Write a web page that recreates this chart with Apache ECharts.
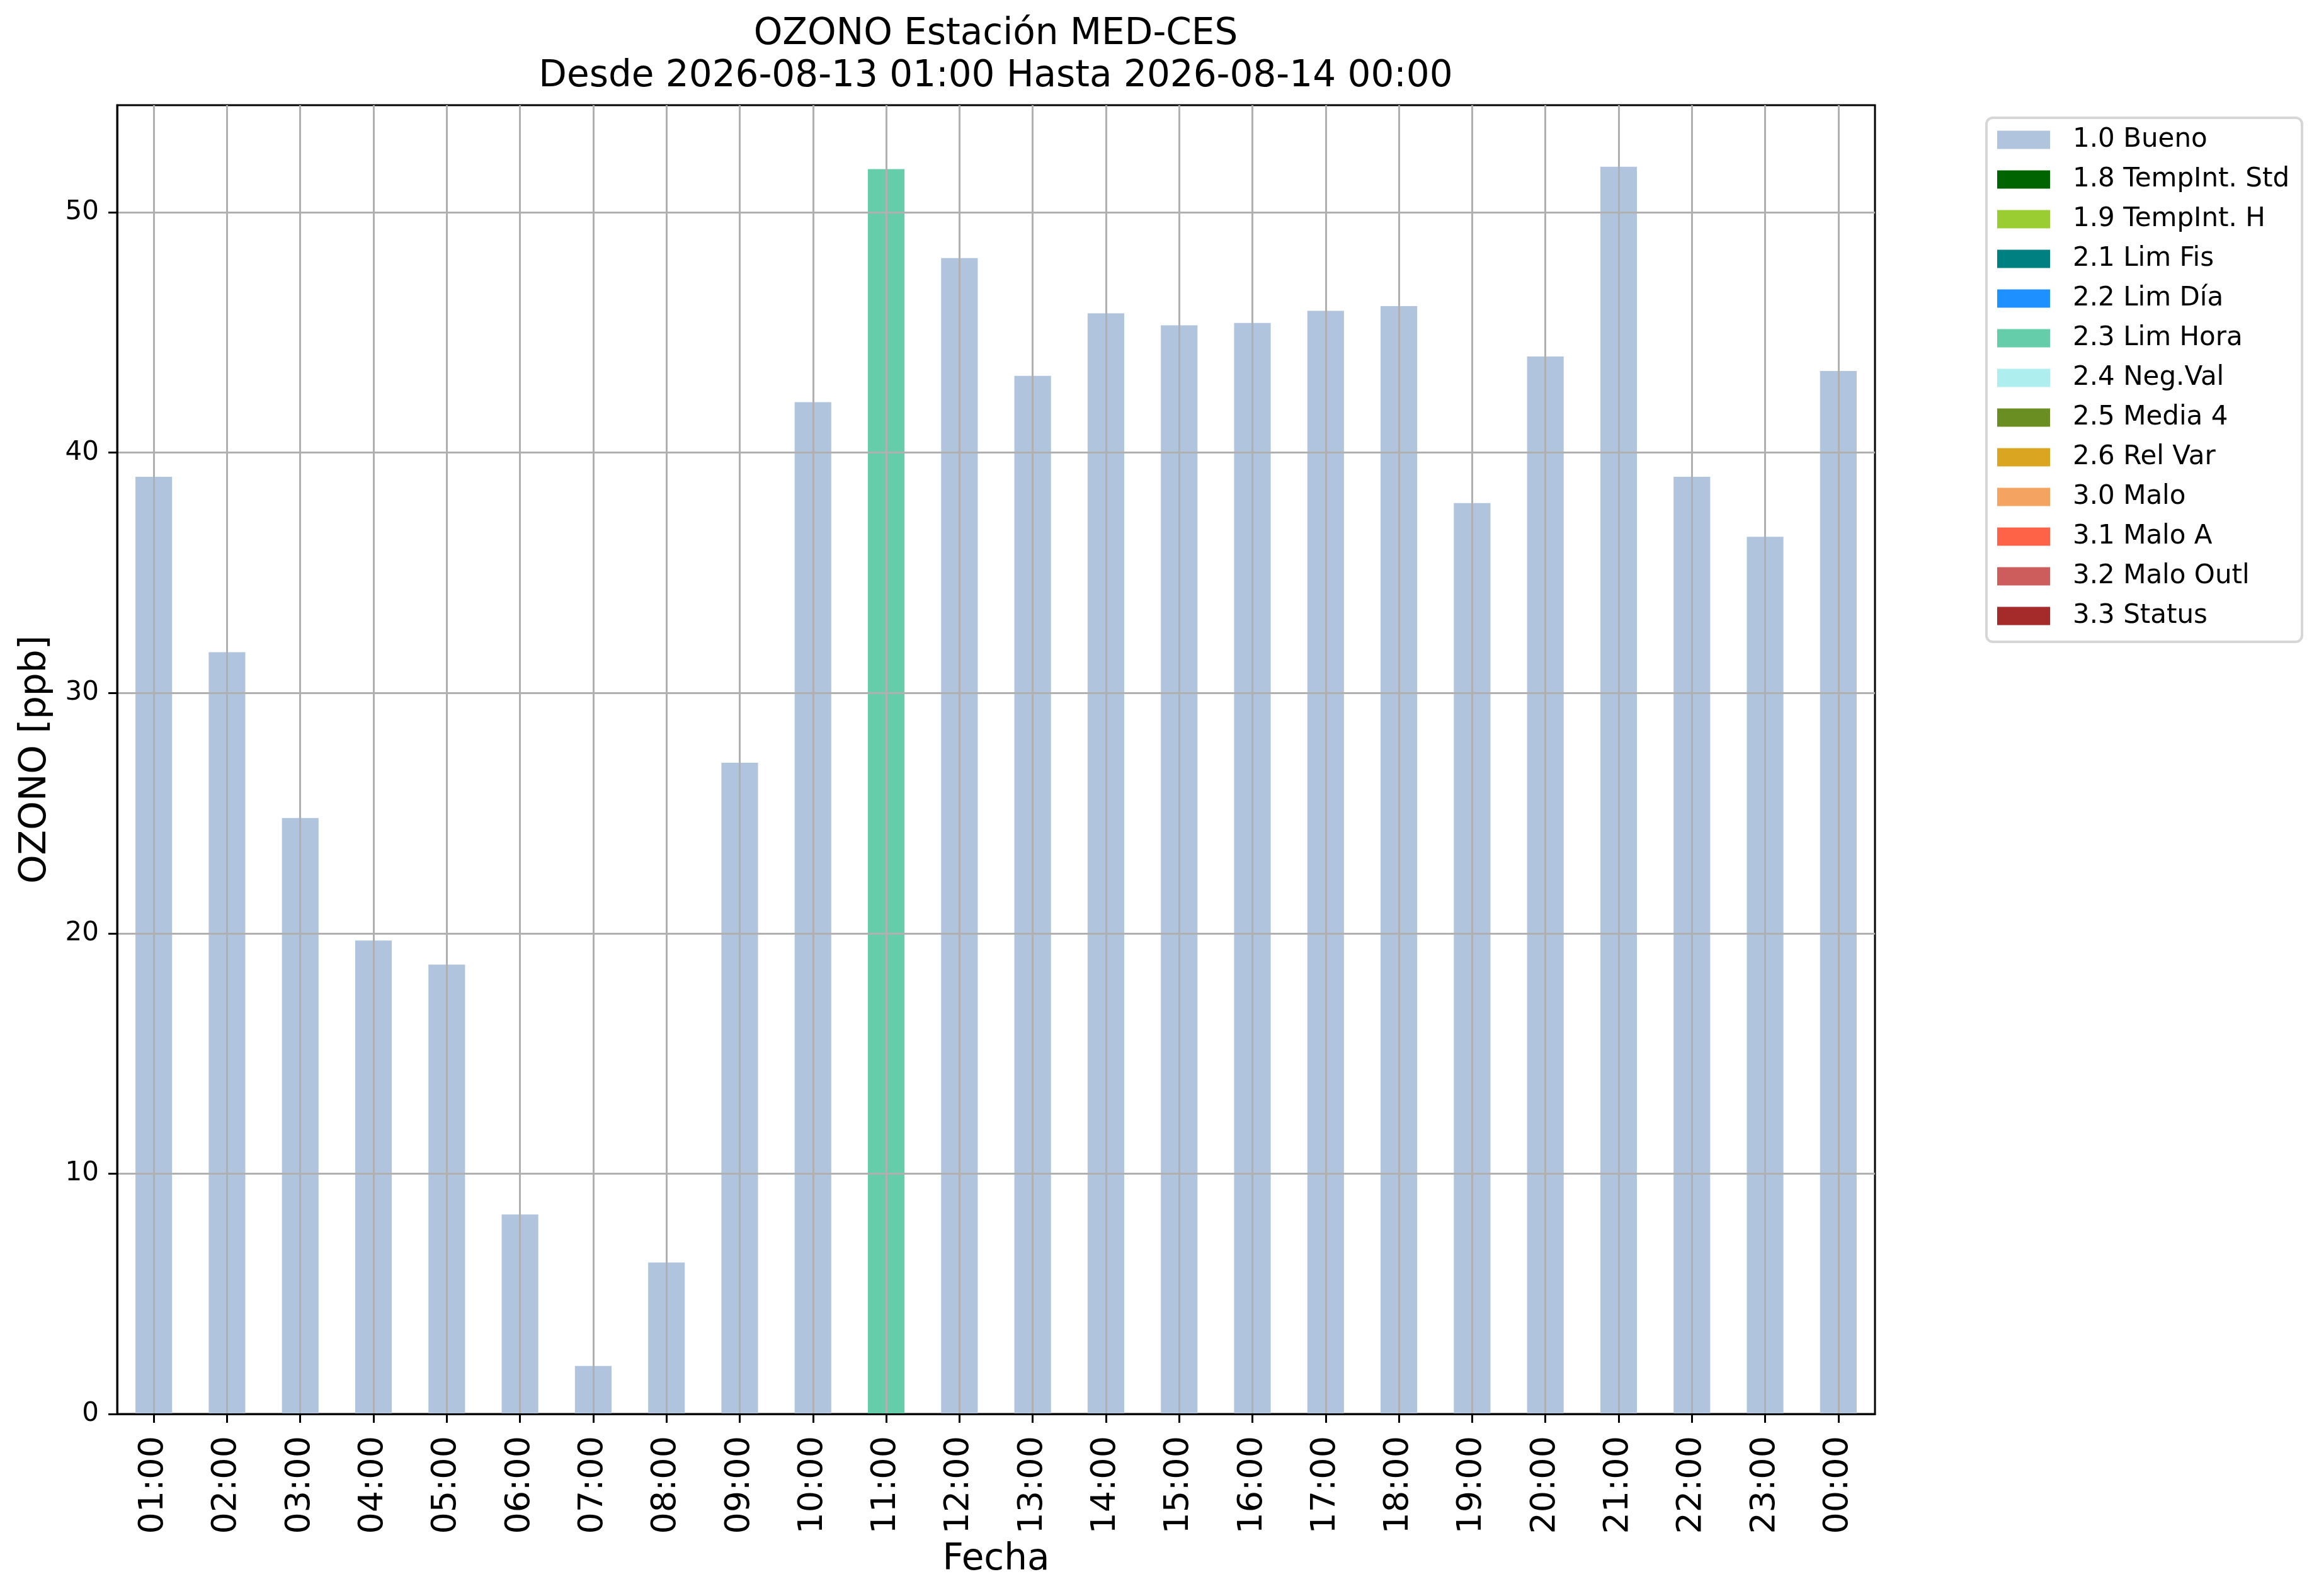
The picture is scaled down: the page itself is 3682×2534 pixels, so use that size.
<!DOCTYPE html>
<html>
<head>
<meta charset="utf-8">
<title>OZONO Estación MED-CES</title>
<script src="https://cdn.jsdelivr.net/npm/echarts@6/dist/echarts.min.js"></script>
<style>
    html, body { margin: 0; padding: 0; background: #ffffff; }
    #OzonoChart { width: 3682px; height: 2534px; }
</style>
</head>
<body>
<div id="OzonoChart"></div>
<script>
// Hourly values
const hours = ['01:00', '02:00', '03:00', '04:00', '05:00', '06:00', '07:00', '08:00',
    '09:00', '10:00', '11:00', '12:00', '13:00', '14:00', '15:00', '16:00',
    '17:00', '18:00', '19:00', '20:00', '21:00', '22:00', '23:00', '00:00'];
const ozone = [39.0, 31.7, 24.8, 19.7, 18.7, 8.3, 2.0, 6.3,
    27.1, 42.1, 51.8, 48.1, 43.2, 45.8, 45.3, 45.4,
    45.9, 46.1, 37.9, 44.0, 51.9, 39.0, 36.5, 43.4];
// validation flag of every hour
const hourFlags = ['1.0 Bueno', '1.0 Bueno', '1.0 Bueno', '1.0 Bueno', '1.0 Bueno', '1.0 Bueno', '1.0 Bueno', '1.0 Bueno',
    '1.0 Bueno', '1.0 Bueno', '2.3 Lim Hora', '1.0 Bueno', '1.0 Bueno', '1.0 Bueno', '1.0 Bueno', '1.0 Bueno',
    '1.0 Bueno', '1.0 Bueno', '1.0 Bueno', '1.0 Bueno', '1.0 Bueno', '1.0 Bueno', '1.0 Bueno', '1.0 Bueno'];

const flagNames = ['1.0 Bueno', '1.8 TempInt. Std', '1.9 TempInt. H', '2.1 Lim Fis', '2.2 Lim Día',
    '2.3 Lim Hora', '2.4 Neg.Val', '2.5 Media 4', '2.6 Rel Var', '3.0 Malo',
    '3.1 Malo A', '3.2 Malo Outl', '3.3 Status'];
const flagColors = ['#B0C4DE', '#006400', '#9ACD32', '#008080', '#1E90FF',
    '#66CDAA', '#AFEEEE', '#6B8E23', '#DAA520', '#F4A460',
    '#FF6347', '#CD5C5C', '#A52A2A'];

const yTicks = [0, 10, 20, 30, 40, 50];
const yMax = 54.46;

const FONT = "'DejaVu Sans', sans-serif";

const chartDom = document.getElementById('OzonoChart');
const myChart = echarts.init(chartDom, null, { renderer: 'canvas' });

// one stacked series per flag, a bar only where the hour carries that flag
const series = flagNames.map((name, i) => ({
    name: name,
    type: 'bar',
    stack: 'flags',
    barWidth: '50%',
    itemStyle: { color: flagColors[i] },
    data: ozone.map((v, k) => (hourFlags[k] === name ? v : '-'))
}));

const option = {
    backgroundColor: '#ffffff',
    animation: false,
    title: {
        text: 'OZONO Estación MED-CES\nDesde 2026-08-13 01:00 Hasta 2026-08-14 00:00',
        left: 1581,
        top: 21,
        padding: 0,
        textAlign: 'center',
        textStyle: {
            fontFamily: FONT,
            fontSize: 58,
            fontWeight: 'normal',
            lineHeight: 67,
            color: '#000000'
        }
    },
    legend: {
        orient: 'vertical',
        left: 3154,
        top: 187,
        padding: [14, 20, 20, 17],
        itemWidth: 84,
        itemHeight: 29,
        itemGap: 21,
        icon: 'rect',
        borderColor: '#d6d6d6',
        borderWidth: 4,
        borderRadius: 10,
        data: flagNames,
        textStyle: {
            fontFamily: FONT,
            fontSize: 42,
            color: '#000000',
            padding: [0, 0, 0, 31]
        }
    },
    grid: {
        left: 186,
        right: 705,
        top: 167,
        bottom: 289,
        show: true,
        borderColor: '#000000',
        borderWidth: 3,
        containLabel: false
    },
    xAxis: {
        type: 'category',
        data: hours,
        boundaryGap: true,
        z: 3,
        name: 'Fecha',
        nameLocation: 'middle',
        nameGap: 193,
        nameTextStyle: {
            fontFamily: FONT,
            fontSize: 58,
            lineHeight: 67,
            color: '#000000'
        },
        axisLine: { show: true, lineStyle: { color: '#000000', width: 3 } },
        axisTick: {
            show: true,
            alignWithLabel: true,
            length: 14,
            lineStyle: { color: '#000000', width: 3 }
        },
        axisLabel: {
            interval: 0,
            rotate: 90,
            margin: 35,
            fontFamily: FONT,
            fontSize: 54,
            color: '#000000'
        },
        splitLine: {
            show: true,
            alignWithLabel: true,
            lineStyle: { color: '#b0b0b0', width: 3 }
        }
    },
    yAxis: {
        type: 'value',
        min: 0,
        max: yMax,
        interval: 10,
        z: 3,
        name: 'OZONO [ppb]',
        nameLocation: 'middle',
        nameGap: 96,
        nameTextStyle: {
            fontFamily: FONT,
            fontSize: 58,
            lineHeight: 67,
            color: '#000000'
        },
        axisLine: { show: true, lineStyle: { color: '#000000', width: 3 } },
        axisTick: {
            show: true,
            length: 14,
            customValues: yTicks,
            lineStyle: { color: '#000000', width: 3 }
        },
        axisLabel: {
            margin: 29,
            customValues: yTicks,
            fontFamily: FONT,
            fontSize: 42,
            color: '#000000'
        },
        splitLine: {
            show: true,
            lineStyle: { color: '#b0b0b0', width: 3 }
        }
    },
    series
};

myChart.setOption(option);

window.addEventListener('resize', () => {
    myChart.resize();
});
</script>
</body>
</html>
